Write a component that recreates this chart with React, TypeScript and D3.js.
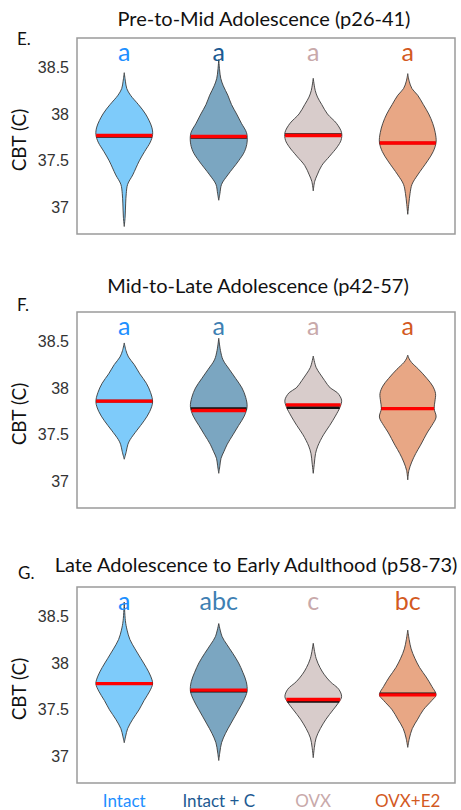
import React from "react";
import * as d3 from "d3";

// Groups (x categories)
const groups = ["Intact", "Intact + C", "OVX", "OVX+E2"];

// Panel titles and letters
const panelTitles = [
  "Pre-to-Mid Adolescence (p26-41)",
  "Mid-to-Late Adolescence (p42-57)",
  "Late Adolescence to Early Adulthood (p58-73)",
];
const panelTags = ["E.", "F.", "G."];

// Significance letters per panel, per group
const sigLetters = [
  ["a", "a", "a", "a"],
  ["a", "a", "a", "a"],
  ["a", "abc", "c", "bc"],
];

// Medians (red) and means (black), degrees C
const medians = [
  [37.77, 37.76, 37.77, 37.69],
  [37.86, 37.76, 37.82, 37.78],
  [37.78, 37.71, 37.61, 37.66],
];
const means = [
  [37.76, 37.75, 37.78, 37.69],
  [37.86, 37.78, 37.79, 37.78],
  [37.78, 37.70, 37.59, 37.67],
];

// Density profiles: [CBT, relative density] per violin
const densE: [number, number][][] = [
  [[36.8,0],[36.9,0.03],[37.05,0.05],[37.15,0.07],[37.25,0.12],[37.35,0.3],[37.5,0.53],[37.6,0.72],[37.7,0.92],[37.78,1.0],[37.86,0.97],[38.0,0.75],[38.1,0.5],[38.2,0.22],[38.27,0.09],[38.35,0.04],[38.44,0]],
  [[37.08,0],[37.15,0.04],[37.25,0.1],[37.35,0.32],[37.5,0.7],[37.6,0.91],[37.7,1.0],[37.8,0.98],[37.9,0.8],[38.0,0.63],[38.1,0.45],[38.2,0.32],[38.3,0.16],[38.38,0.07],[38.47,0.03],[38.58,0]],
  [[37.18,0],[37.28,0.05],[37.35,0.14],[37.45,0.3],[37.55,0.58],[37.65,0.85],[37.72,0.98],[37.8,1.0],[37.9,0.82],[38.0,0.5],[38.1,0.3],[38.18,0.15],[38.25,0.07],[38.38,0]],
  [[36.93,0],[37.05,0.04],[37.15,0.08],[37.25,0.15],[37.35,0.35],[37.5,0.7],[37.6,0.9],[37.7,1.0],[37.8,0.97],[37.9,0.88],[38.0,0.74],[38.1,0.55],[38.2,0.35],[38.27,0.15],[38.35,0.05],[38.43,0]],
];
const densF: [number, number][][] = [
  [[37.24,0],[37.32,0.07],[37.4,0.13],[37.45,0.21],[37.55,0.45],[37.65,0.7],[37.75,0.9],[37.85,1.0],[37.95,0.93],[38.05,0.78],[38.15,0.55],[38.25,0.35],[38.33,0.15],[38.4,0.06],[38.48,0]],
  [[37.09,0],[37.17,0.04],[37.25,0.08],[37.32,0.18],[37.4,0.3],[37.5,0.5],[37.6,0.7],[37.7,0.9],[37.8,1.0],[37.9,0.95],[38.0,0.82],[38.1,0.6],[38.2,0.37],[38.3,0.15],[38.4,0.06],[38.53,0]],
  [[37.09,0],[37.2,0.04],[37.3,0.08],[37.38,0.16],[37.5,0.36],[37.6,0.58],[37.7,0.78],[37.8,0.95],[37.87,1.0],[37.95,0.85],[38.0,0.6],[38.08,0.4],[38.15,0.24],[38.22,0.1],[38.34,0]],
  [[37.02,0],[37.12,0.04],[37.21,0.14],[37.3,0.28],[37.39,0.45],[37.53,0.7],[37.6,0.85],[37.69,1.0],[37.78,0.93],[37.86,0.96],[37.94,0.98],[38.02,0.88],[38.1,0.68],[38.2,0.38],[38.27,0.14],[38.31,0.05],[38.35,0]],
];
const densG: [number, number][][] = [
  [[37.15,0],[37.22,0.05],[37.3,0.12],[37.4,0.3],[37.5,0.52],[37.6,0.7],[37.7,0.9],[37.78,1.0],[37.86,0.93],[37.95,0.78],[38.05,0.58],[38.15,0.38],[38.25,0.2],[38.35,0.1],[38.45,0.04],[38.65,0]],
  [[36.96,0],[37.05,0.04],[37.15,0.1],[37.25,0.24],[37.35,0.42],[37.5,0.7],[37.6,0.88],[37.7,1.0],[37.8,0.97],[37.9,0.85],[38.0,0.7],[38.1,0.5],[38.2,0.28],[38.28,0.12],[38.42,0]],
  [[36.99,0],[37.1,0.04],[37.2,0.1],[37.3,0.25],[37.4,0.45],[37.5,0.7],[37.58,0.9],[37.64,1.0],[37.72,0.9],[37.8,0.6],[37.88,0.38],[37.95,0.24],[38.05,0.1],[38.21,0]],
  [[37.1,0],[37.2,0.06],[37.3,0.16],[37.4,0.35],[37.5,0.55],[37.6,0.85],[37.66,1.0],[37.75,0.85],[37.85,0.65],[37.95,0.42],[38.05,0.25],[38.15,0.12],[38.25,0.05],[38.35,0]],
];
const densities = [densE, densF, densG];

// Y axis ticks
const yTicks = [37, 37.5, 38, 38.5];
const yTickLabels = ["37", "37.5", "38", "38.5"];
const yDomain: [number, number] = [36.72, 38.81];

// Styling
const fillColors = ["#7ECBFA", "#7BA6C1", "#D8CCCB", "#E8A785"];
const letterColors = [
  ["#1E8FFF", "#1C5A92", "#C8A9AA", "#D35A1F"],
  ["#1E8FFF", "#3E80B3", "#C8A9AA", "#D35A1F"],
  ["#1E8FFF", "#3E80B3", "#C8A9AA", "#D35A1F"],
];
const labelColors = ["#1E8FFF", "#1C5A92", "#C8A9AA", "#D35A1F"];

const W = 461;
const H = 810;
const plotLeft = 77;
const plotRight = 455;
const plotHeight = 196;
const panelTops = [38, 312, 587];
const titleBaselines = [26, 293, 572];
const titleCenters = [264, 258, 256];
const tagPos = [
  [17, 45],
  [17, 311],
  [18, 579],
];
const halfMax = 0.3; // max half-width of a violin, in category units

const sansTitle = "Lato, 'Open Sans', sans-serif";
const sansAxis = "'Liberation Sans', Arial, sans-serif";

function interpDensity(prof: [number, number][], v: number): number {
  for (let i = 0; i < prof.length - 1; i++) {
    const [a, da] = prof[i];
    const [b, db] = prof[i + 1];
    if (v >= a && v <= b) return da + ((db - da) * (v - a)) / (b - a);
  }
  return 0;
}

function Panel({ idx }: { idx: number }) {
  const top = panelTops[idx];
  const bottom = top + plotHeight;
  const x = d3.scaleLinear().domain([0.5, 4.5]).range([plotLeft, plotRight]);
  const y = d3.scaleLinear().domain(yDomain).range([bottom, top]);
  const unit = x(1) - x(0);

  return (
    <g>
      <text
        x={titleCenters[idx]}
        y={titleBaselines[idx]}
        textAnchor="middle"
        fontFamily={sansTitle}
        fontSize={20}
        fill="#111"
      >
        {panelTitles[idx]}
      </text>
      <text x={tagPos[idx][0]} y={tagPos[idx][1]} fontFamily={sansTitle} fontSize={17} fill="#111">
        {panelTags[idx]}
      </text>
      <text
        transform={`translate(26,${(top + bottom) / 2 + 4}) rotate(-90)`}
        textAnchor="middle"
        fontFamily={sansTitle}
        fontSize={19}
        fill="#111"
      >
        CBT (C)
      </text>
      {yTicks.map((t, i) => (
        <text
          key={t}
          x={69}
          y={y(t)}
          dy="0.35em"
          textAnchor="end"
          fontFamily={sansAxis}
          fontSize={16}
          fill="#333"
        >
          {yTickLabels[i]}
        </text>
      ))}
      {groups.map((g, gi) => {
        const prof = densities[idx][gi];
        const cx = x(gi + 1);
        const area = d3
          .area<[number, number]>()
          .y((d) => y(d[0]))
          .x0((d) => cx - d[1] * halfMax * unit)
          .x1((d) => cx + d[1] * halfMax * unit)
          .curve(d3.curveCatmullRom.alpha(0.5));
        const med = medians[idx][gi];
        const mn = means[idx][gi];
        const wMed = interpDensity(prof, med) * halfMax * unit;
        const wMean = interpDensity(prof, mn) * halfMax * unit;
        return (
          <g key={g}>
            <path
              d={area(prof) || ""}
              fill={fillColors[gi]}
              stroke="#3a3a3a"
              strokeWidth={0.9}
              strokeLinejoin="round"
            />
            <line x1={cx - wMean} x2={cx + wMean} y1={y(mn)} y2={y(mn)} stroke="#111" strokeWidth={2.6} />
            <line x1={cx - wMed} x2={cx + wMed} y1={y(med)} y2={y(med)} stroke="#FF0000" strokeWidth={3.4} />
            <text
              x={cx}
              y={top + 23}
              textAnchor="middle"
              fontFamily={sansTitle}
              fontSize={25}
              fill={letterColors[idx][gi]}
            >
              {sigLetters[idx][gi]}
            </text>
          </g>
        );
      })}
      <rect
        x={plotLeft}
        y={top}
        width={plotRight - plotLeft}
        height={plotHeight}
        fill="none"
        stroke="#9a9a9a"
        strokeWidth={1.5}
      />
    </g>
  );
}

export default function App() {
  const x = d3.scaleLinear().domain([0.5, 4.5]).range([plotLeft, plotRight]);
  return (
    <svg
      width={W}
      height={H}
      style={{ position: "absolute", left: 0, top: 0, background: "#fff" }}
    >
      <rect width={W} height={H} fill="#fff" />
      {[0, 1, 2].map((i) => (
        <Panel key={i} idx={i} />
      ))}
      {groups.map((g, gi) => (
        <text
          key={g}
          x={x(gi + 1)}
          y={807}
          textAnchor="middle"
          fontFamily={sansTitle}
          fontSize={17}
          fill={labelColors[gi]}
        >
          {g}
        </text>
      ))}
    </svg>
  );
}
